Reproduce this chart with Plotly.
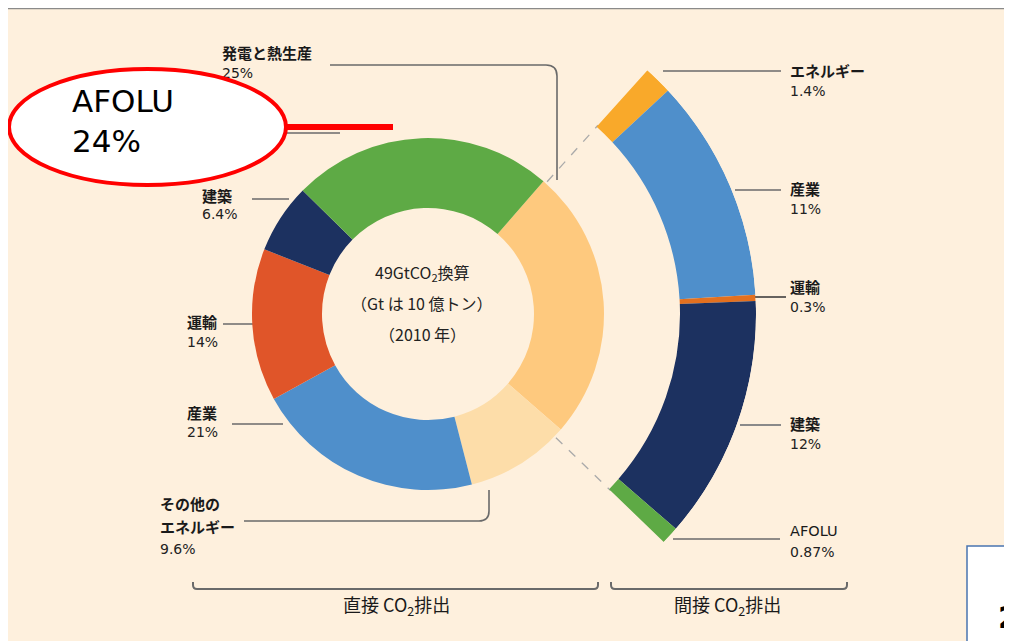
import math
import plotly.graph_objects as go

# direct emissions (donut), 2010, share of 49 GtCO2eq
direct_labels = ["発電と熱生産", "その他の<br>エネルギー", "産業", "運輸", "建築", "AFOLU"]
direct_values = [25, 9.6, 21, 14, 6.4, 24]
direct_colors = ["#FEC97E", "#FDDDA9", "#4F8FCB", "#E05529", "#1C3160", "#5EAA45"]

# indirect emissions (outer arc, split of power & heat)
indirect_labels = ["エネルギー", "産業", "運輸", "建築", "AFOLU"]
indirect_values = [1.4, 11, 0.3, 12, 0.87]
indirect_colors = ["#F9A92A", "#4F8FCB", "#E3701F", "#1C3160", "#5EAA45"]

center_lines = ["49GtCO<sub>2</sub>換算", "（Gt は 10 億トン）", "（2010 年）"]
group_titles = ["直接 CO<sub>2</sub>排出", "間接 CO<sub>2</sub>排出"]

# the page body keeps its 8px margin, so the figure starts at (8, 8) on screen
OFF = 8
SW, SH = 1012, 641
W, H = SW - OFF, SH - OFF
CX, CY = 428, 314
R_IN, R_OUT = 106, 176
ARC_IN, ARC_OUT = 252, 328
START = 41
SECTOR = [-48, 50]

FONT = "Noto Sans CJK JP"
LINE = "#6A6A6A"
NAME_SIZE = 15
PCT_SIZE = 14


def fx(x):
    return (x - OFF) / W


def fy(y):
    return (SH - y) / H


fig = go.Figure()

fig.add_trace(go.Pie(
    labels=direct_labels, values=direct_values, sort=False, direction="clockwise",
    rotation=START, hole=R_IN / R_OUT, textinfo="none", hoverinfo="label+percent",
    marker=dict(colors=direct_colors, line=dict(width=0)), showlegend=False,
    domain=dict(x=[fx(CX - R_OUT), fx(CX + R_OUT)], y=[fy(CY + R_OUT), fy(CY - R_OUT)]),
))

# outer arc: bars on a polar sector, same angular scale as the donut (100% = 360 deg)
ends, acc = [], START + 1
for v in indirect_values:
    ends.append(acc + v * 3.6)
    acc += v * 3.6
fig.add_trace(go.Barpolar(
    theta=[e - v * 1.8 for e, v in zip(ends, indirect_values)],
    width=[v * 3.6 for v in indirect_values],
    r=[ARC_OUT - ARC_IN] * len(indirect_values), base=ARC_IN,
    marker=dict(color=indirect_colors, line=dict(width=0)),
    text=indirect_labels, hoverinfo="text", showlegend=False, subplot="polar",
))
s_top = math.sin(math.radians(SECTOR[1]))
s_bot = -math.sin(math.radians(SECTOR[0]))

shapes = []
# cream panel
shapes.append(dict(type="rect", x0=2, y0=8, x1=SW + 5, y1=SH + 5, fillcolor="#FEF0DD",
                   line=dict(color="#8A8A8A", width=2.5), layer="below"))
# bottom-right box
shapes.append(dict(type="rect", x0=967, y0=546, x1=SW + 5, y1=SH + 5, fillcolor="white",
                   line=dict(color="#4A74B0", width=1.5), layer="below"))


def seg(path, color=LINE, width=1.6, layer="below"):
    shapes.append(dict(type="path", path=path, line=dict(color=color, width=width), layer=layer))


# dashed guides from the power segment to the outer arc
for a in [START + 1, ends[-1]]:
    t = math.radians(a)
    x0, y0 = CX + (R_OUT + 2) * math.sin(t), CY - (R_OUT + 2) * math.cos(t)
    x1, y1 = CX + (ARC_IN + 2) * math.sin(t), CY - (ARC_IN + 2) * math.cos(t)
    shapes.append(dict(type="line", x0=x0, y0=y0, x1=x1, y1=y1,
                       line=dict(color="#AAAAAA", width=1.3, dash="dash"), layer="below"))

# leader lines, left side
seg("M 330 65 L 546 65 Q 557 65 557 76 L 557 180")
seg("M 286 133 L 340 133")
seg("M 252 199 L 289 199")
seg("M 223 324 L 258 324")
seg("M 232 424 L 283 424")
seg("M 244 521 L 479 521 Q 489 521 489 511 L 489 490")
# leader lines, right side
seg("M 663 71 L 781 71")
seg("M 735 190 L 781 190")
seg("M 752 297 L 786 297", color="#333333")
seg("M 740 425 L 781 425", color="#8A8A8A", width=2)
seg("M 673 539 L 780 539")
# group brackets
seg("M 193 582 L 193 585 Q 193 589 197 589 L 594 589 Q 598 589 598 585 L 598 582", width=2)
seg("M 611 582 L 611 585 Q 611 589 615 589 L 843 589 Q 847 589 847 585 L 847 582", width=2)

# red callout
seg("M 284 127 L 393 127", color="#FF0000", width=6, layer="above")
shapes.append(dict(type="circle", x0=9, y0=69, x1=286, y1=185, fillcolor="white",
                   line=dict(color="#FF0000", width=4), layer="above"))

ann = []


def label(x, y, text, size=NAME_SIZE, bold=False, color="#1A1A1A", xanchor="left", family=FONT):
    if bold:
        text = "<b>" + text + "</b>"
    ann.append(dict(x=x, y=y, xref="x", yref="y", text=text, showarrow=False,
                    xanchor=xanchor, yanchor="middle", font=dict(family=family, size=size, color=color)))


def pct(v):
    return f"{v}%"


PCT = dict(color="#222222", family="DejaVu Sans", size=PCT_SIZE)

# direct labels (the power one sits under the callout, so it is drawn as a trace)
fig.add_trace(go.Scatter(
    x=[222, 222], y=[55, 74], mode="text", textposition="middle right",
    text=["<b>" + direct_labels[0] + "</b>", pct(direct_values[0])],
    textfont=dict(family=[FONT, "DejaVu Sans"], size=[NAME_SIZE, PCT_SIZE], color="#1A1A1A"),
    hoverinfo="skip", showlegend=False,
))
label(200, 195, direct_labels[4], bold=True)
label(200, 214, pct(direct_values[4]), **PCT)
label(185, 321, direct_labels[3], bold=True)
label(185, 342, pct(direct_values[3]), **PCT)
label(185, 412, direct_labels[2], bold=True)
label(185, 432, pct(direct_values[2]), **PCT)
oth = direct_labels[1].split("<br>")
label(158, 503, oth[0], bold=True)
label(158, 526, oth[1], bold=True)
label(158, 549, pct(direct_values[1]), **PCT)

# indirect labels
ind_y = [70, 188, 286, 423, 531]
for name, v, y in zip(indirect_labels, indirect_values, ind_y):
    if name == "AFOLU":
        label(788, y, name, family="DejaVu Sans", size=14.5)
    else:
        label(788, y, name, bold=True)
    label(788, y + 21, pct(v), **PCT)

# center text
for t, y in zip(center_lines, [272, 303, 334]):
    label(422, y, t, size=16, xanchor="center", color="#222222")

# group titles
label(396, 605, group_titles[0], size=18, xanchor="center", color="#1A1A1A")
label(727, 605, group_titles[1], size=18, xanchor="center", color="#1A1A1A")

# callout text
ann.append(dict(x=70, y=121, xref="x", yref="y", text=direct_labels[5] + "<br>" + pct(direct_values[5]),
                showarrow=False, xanchor="left", yanchor="middle", align="left",
                font=dict(family="DejaVu Sans", size=31, color="#000000")))

# clipped text of the box at the bottom right
ann.append(dict(x=996, y=598, xref="x", yref="y", text="<b>2</b>", showarrow=False,
                xanchor="left", yanchor="top", font=dict(family="DejaVu Sans", size=30, color="#000000")))

fig.update_layout(
    width=W, height=H, margin=dict(l=0, r=0, t=0, b=0),
    paper_bgcolor="white", plot_bgcolor="rgba(0,0,0,0)",
    xaxis=dict(range=[OFF, SW], visible=False, fixedrange=True),
    yaxis=dict(range=[SH, OFF], visible=False, fixedrange=True),
    polar=dict(
        domain=dict(x=[fx(CX), fx(CX + ARC_OUT)],
                    y=[fy(CY + s_bot * ARC_OUT), fy(CY - s_top * ARC_OUT)]),
        sector=SECTOR, hole=0, bgcolor="rgba(0,0,0,0)",
        radialaxis=dict(range=[0, ARC_OUT], visible=False, showgrid=False, showline=False),
        angularaxis=dict(rotation=90, direction="clockwise", thetaunit="degrees",
                         visible=False, showgrid=False, showline=False),
    ),
    barmode="overlay",
    shapes=shapes, annotations=ann,
)

fig.write_html("out.html")
